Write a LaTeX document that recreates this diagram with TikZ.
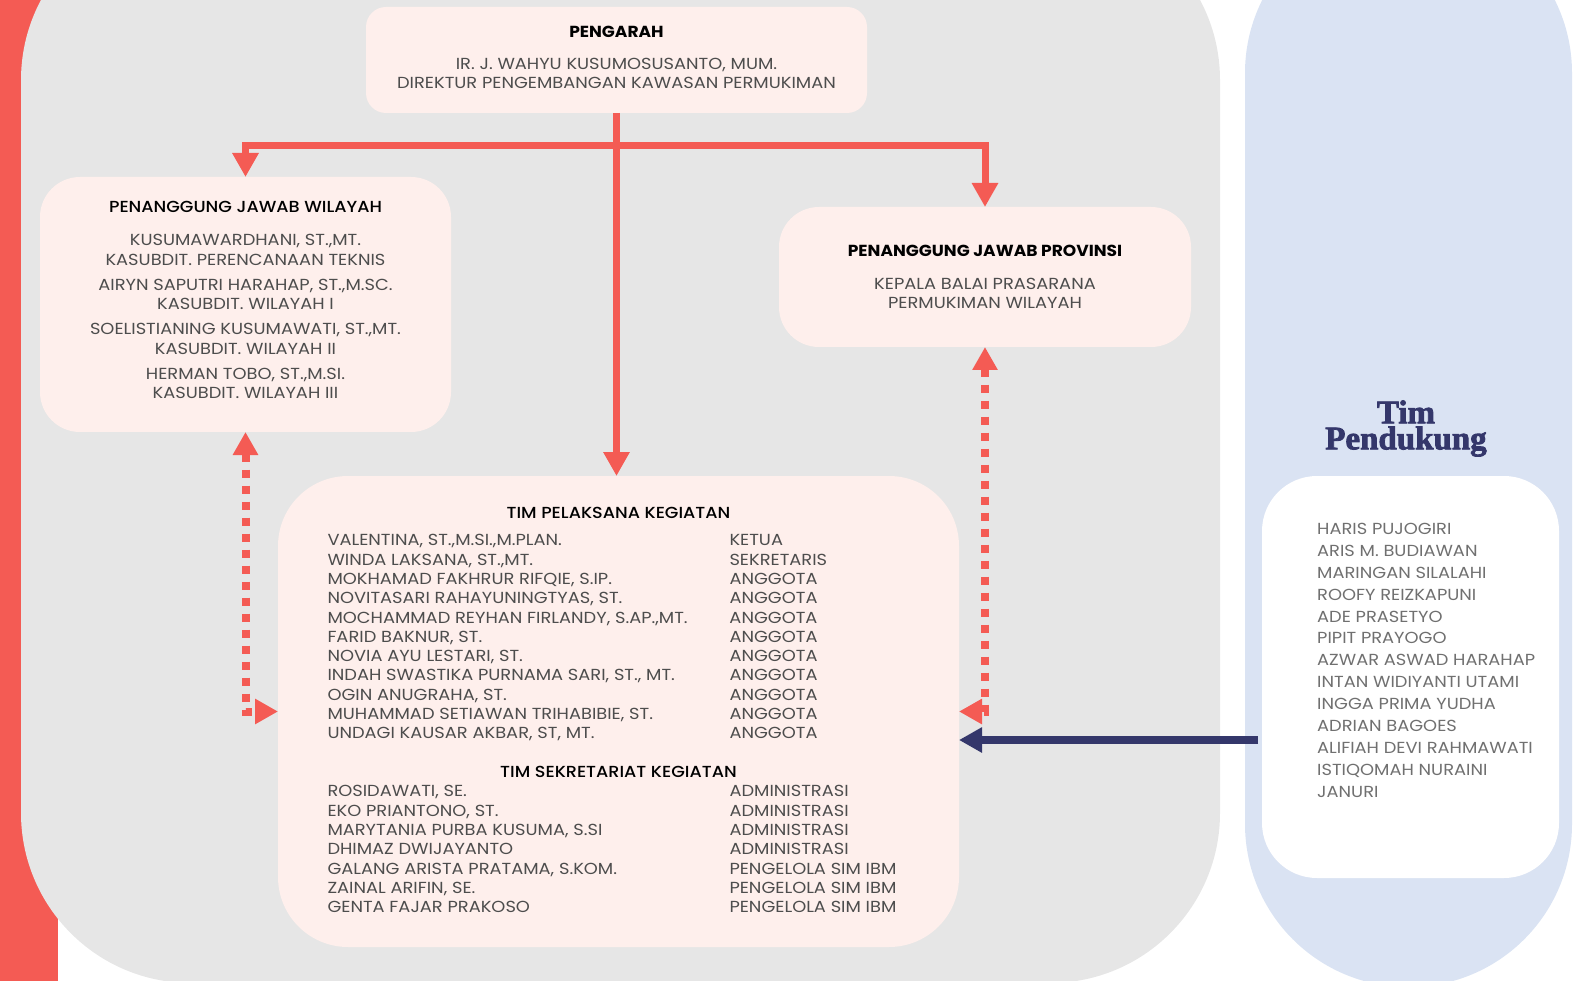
\documentclass[tikz,border=0pt]{standalone}
\usepackage{fontspec}
\setmainfont{Poppins}[UprightFeatures={FakeStretch=1.115}, BoldFeatures={FakeStretch=1.066}]
\newfontfamily\sedangfont{Poppins}[UprightFont=* Medium, UprightFeatures={FakeStretch=1.1}]
\newfontfamily\judulfont{Liberation Serif}[BoldFeatures={FakeBold=2.4}]
\usepackage{tikz}
\usetikzlibrary{positioning, arrows.meta}

\definecolor{merah}{HTML}{F45B54}
\definecolor{abu}{HTML}{E6E6E6}
\definecolor{biru}{HTML}{DAE3F3}
\definecolor{merahmuda}{HTML}{FEEFEC}
\definecolor{navy}{HTML}{34376B}
\definecolor{teks}{HTML}{4D4D4D}
\definecolor{teksmuda}{HTML}{707070}

\newcommand{\isi}{\fontsize{16}{19.3}\selectfont}
\newcommand{\sedang}{\color{black}\sedangfont}
\newcommand{\tebal}{\color{black}\bfseries}

\tikzset{
  kotak/.style={fill=merahmuda, inner sep=0pt, outer sep=0pt, text=teks, font=\isi},
  panah/.style={merah, line width=7pt, -{Triangle[width=25pt,length=24pt]}},
  panahtitik/.style={merah, line width=8pt, dash pattern=on 8pt off 8pt,
    {Triangle[width=24pt,length=23pt]}-{Triangle[width=24pt,length=23pt]}},
  panahnavy/.style={navy, line width=8pt, -{Triangle[width=24pt,length=23pt]}},
}

\begin{document}
\begin{tikzpicture}[x=1pt, y=-1pt]
\useasboundingbox (0,0) rectangle (1588,981);
\clip (0,0) rectangle (1588,981);

% latar
\fill[merah] (0,0) rectangle (58,981);
\fill[abu, rounded corners=170pt] (21,-90) rectangle (1220,983);
\fill[biru, rounded corners=163pt] (1245,-90) rectangle (1572,987);

% kotak
\node[kotak, align=center, minimum width=501pt, minimum height=106pt, rounded corners=20pt] (pengarah) at (616.5,60) {
  {\tebal PENGARAH}\\[13pt]
  IR. J. WAHYU KUSUMOSUSANTO, MUM.\\
  DIREKTUR PENGEMBANGAN KAWASAN PERMUKIMAN\rule[-5pt]{0pt}{5pt}
};
\node[kotak, align=center, minimum width=411pt, minimum height=255pt, rounded corners=40pt] (wilayah) at (245.5,304.5) {
  {\sedang PENANGGUNG JAWAB WILAYAH}\\[14pt]
  KUSUMAWARDHANI, ST.,MT.\\
  KASUBDIT. PERENCANAAN TEKNIS\\[6pt]
  AIRYN SAPUTRI HARAHAP, ST.,M.SC.\\
  KASUBDIT. WILAYAH I\\[6pt]
  SOELISTIANING KUSUMAWATI, ST.,MT.\\
  KASUBDIT. WILAYAH II\\[6pt]
  HERMAN TOBO, ST.,M.SI.\\
  KASUBDIT. WILAYAH III\rule[-9pt]{0pt}{9pt}
};
\node[kotak, align=center, minimum width=412pt, minimum height=140pt, rounded corners=40pt] (provinsi) at (985,277) {
  {\tebal PENANGGUNG JAWAB PROVINSI}\\[14pt]
  KEPALA BALAI PRASARANA\\
  PERMUKIMAN WILAYAH
};
\node[kotak, minimum width=681pt, minimum height=471pt, rounded corners=70pt] (pelaksana) at (618.5,711.5) {
  \begin{tabular}{@{}p{402pt}@{}p{180pt}@{}}
  \multicolumn{2}{c}{\sedang TIM PELAKSANA KEGIATAN}\\[8.5pt]
  VALENTINA, ST.,M.SI.,M.PLAN. & KETUA\\
  WINDA LAKSANA, ST.,MT. & SEKRETARIS\\
  MOKHAMAD FAKHRUR RIFQIE, S.IP. & ANGGOTA\\
  NOVITASARI RAHAYUNINGTYAS, ST. & ANGGOTA\\
  MOCHAMMAD REYHAN FIRLANDY, S.AP.,MT. & ANGGOTA\\
  FARID BAKNUR, ST. & ANGGOTA\\
  NOVIA AYU LESTARI, ST. & ANGGOTA\\
  INDAH SWASTIKA PURNAMA SARI, ST., MT. & ANGGOTA\\
  OGIN ANUGRAHA, ST. & ANGGOTA\\
  MUHAMMAD SETIAWAN TRIHABIBIE, ST. & ANGGOTA\\
  UNDAGI KAUSAR AKBAR, ST, MT. & ANGGOTA\\[19.5pt]
  \multicolumn{2}{c}{\sedang TIM SEKRETARIAT KEGIATAN}\\
  ROSIDAWATI, SE. & ADMINISTRASI\\
  EKO PRIANTONO, ST. & ADMINISTRASI\\
  MARYTANIA PURBA KUSUMA, S.SI & ADMINISTRASI\\
  DHIMAZ DWIJAYANTO & ADMINISTRASI\\
  GALANG ARISTA PRATAMA, S.KOM. & PENGELOLA SIM IBM\\
  ZAINAL ARIFIN, SE. & PENGELOLA SIM IBM\\
  GENTA FAJAR PRAKOSO & PENGELOLA SIM IBM
  \end{tabular}
};

% tim pendukung
\node[text=navy, font=\judulfont\bfseries\fontsize{33}{26}\selectfont, align=center, inner sep=0pt] (judulpendukung) at (1406,428.5) {Tim\\Pendukung};
\node[fill=white, inner sep=0pt, outer sep=0pt, minimum width=297pt, minimum height=402pt, rounded corners=55pt] (pendukung) at (1410.5,677) {};
\node[anchor=north west, inner sep=0pt, align=left, text=teksmuda, font=\fontsize{16}{21.9}\selectfont] (anggota) at (1317,523) {
  HARIS PUJOGIRI\\
  ARIS M. BUDIAWAN\\
  MARINGAN SILALAHI\\
  ROOFY REIZKAPUNI\\
  ADE PRASETYO\\
  PIPIT PRAYOGO\\
  AZWAR ASWAD HARAHAP\\
  INTAN WIDIYANTI UTAMI\\
  INGGA PRIMA YUDHA\\
  ADRIAN BAGOES\\
  ALIFIAH DEVI RAHMAWATI\\
  ISTIQOMAH NURAINI\\
  JANURI
};

% panah
\coordinate (cabang) at (616.5,146);
\draw[panah] (pengarah.south) -- (pengarah.south |- pelaksana.north);
\draw[panah] (cabang) -| (wilayah.north);
\draw[panah] (cabang) -| (provinsi.north);
\draw[panahtitik] (wilayah.south) |- (pelaksana.west);
\draw[panahtitik] (provinsi.south) |- (pelaksana.east);
\draw[panahnavy] ([shift={(-4pt,-63pt)}]pendukung.west) -- ([yshift=-63pt]pendukung.west -| pelaksana.east);
\end{tikzpicture}
\end{document}
